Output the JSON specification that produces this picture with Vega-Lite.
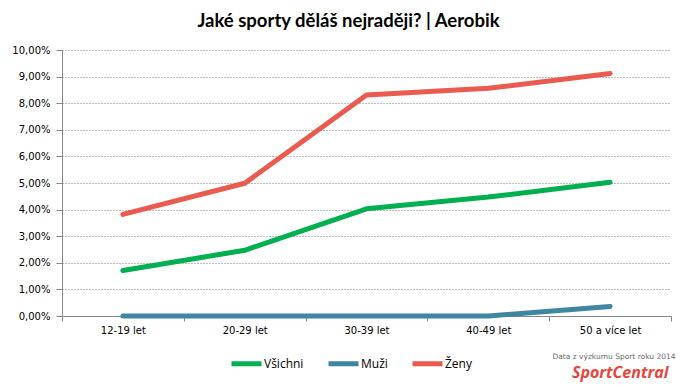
{
  "$schema": "https://vega.github.io/schema/vega-lite/v6.json",
  "width": 609,
  "height": 266,
  "autosize": {"type": "none"},
  "padding": {"left": 62, "top": 50, "right": 15, "bottom": 72},
  "background": "white",
  "title": {
    "text": "Jaké sporty děláš nejraději? | Aerobik",
    "font": "Lato",
    "fontSize": 18.5,
    "fontWeight": "bold",
    "color": "#000000",
    "anchor": "middle",
    "dx": -18,
    "offset": 15
  },
  "config": {
    "view": {"stroke": null},
    "axis": {
      "labelFont": "DejaVu Sans",
      "labelFontSize": 10,
      "labelColor": "#000000",
      "domainColor": "#868686",
      "tickColor": "#868686",
      "gridColor": "#7a7a7a",
      "gridDash": [1, 2]
    }
  },
  "data": {
    "values": [
      {"age": "12-19 let", "series": "Všichni", "value": 0.0171},
      {"age": "20-29 let", "series": "Všichni", "value": 0.0247},
      {"age": "30-39 let", "series": "Všichni", "value": 0.0403},
      {"age": "40-49 let", "series": "Všichni", "value": 0.0447},
      {"age": "50 a více let", "series": "Všichni", "value": 0.0503},
      {"age": "12-19 let", "series": "Muži", "value": 0.0},
      {"age": "20-29 let", "series": "Muži", "value": 0.0},
      {"age": "30-39 let", "series": "Muži", "value": 0.0},
      {"age": "40-49 let", "series": "Muži", "value": 0.0},
      {"age": "50 a více let", "series": "Muži", "value": 0.0036},
      {"age": "12-19 let", "series": "Ženy", "value": 0.0382},
      {"age": "20-29 let", "series": "Ženy", "value": 0.0499},
      {"age": "30-39 let", "series": "Ženy", "value": 0.0831},
      {"age": "40-49 let", "series": "Ženy", "value": 0.0856},
      {"age": "50 a více let", "series": "Ženy", "value": 0.0912}
    ]
  },
  "mark": {"type": "line", "strokeWidth": 5, "strokeCap": "round", "strokeJoin": "round"},
  "encoding": {
    "x": {
      "field": "age",
      "type": "nominal",
      "sort": ["12-19 let", "20-29 let", "30-39 let", "40-49 let", "50 a více let"],
      "scale": {"type": "band", "paddingInner": 0, "paddingOuter": 0},
      "axis": {
        "title": "Data z výzkumu Sport roku 2014",
        "titleFont": "DejaVu Sans",
        "titleFontSize": 7.5,
        "titleFontWeight": "normal",
        "titleColor": "#6b6b6b",
        "titleAlign": "right",
        "titleBaseline": "alphabetic",
        "titleX": 613,
        "titleY": 42,
        "labelAngle": 0,
        "labelPadding": 4,
        "tickBand": "extent",
        "tickSize": 5,
        "grid": false
      }
    },
    "y": {
      "field": "value",
      "type": "quantitative",
      "scale": {"domain": [0, 0.1], "nice": false},
      "axis": {
        "values": [0, 0.01, 0.02, 0.03, 0.04, 0.05, 0.06, 0.07, 0.08, 0.09, 0.1],
        "labelExpr": "replace(format(datum.value, '.2%'), '.', ',')",
        "tickSize": 6,
        "labelPadding": 6,
        "title": "SportCentral",
        "titleFont": "Open Sans",
        "titleFontSize": 16,
        "titleFontWeight": "bold",
        "titleFontStyle": "italic",
        "titleColor": "#e8463c",
        "titleAngle": 0,
        "titleAlign": "right",
        "titleBaseline": "alphabetic",
        "titleX": 606,
        "titleY": 327
      }
    },
    "color": {
      "field": "series",
      "type": "nominal",
      "scale": {"domain": ["Všichni", "Muži", "Ženy"], "range": ["#00af50", "#3f86a1", "#eb5a4f"]},
      "legend": {
        "title": null,
        "orient": "none",
        "direction": "horizontal",
        "legendX": 167,
        "legendY": 296,
        "symbolType": "stroke",
        "symbolSize": 900,
        "symbolStrokeWidth": 5,
        "labelFont": "Open Sans",
        "labelFontSize": 12,
        "labelColor": "#000000",
        "labelOffset": 0,
        "columnPadding": 14
      }
    }
  }
}
